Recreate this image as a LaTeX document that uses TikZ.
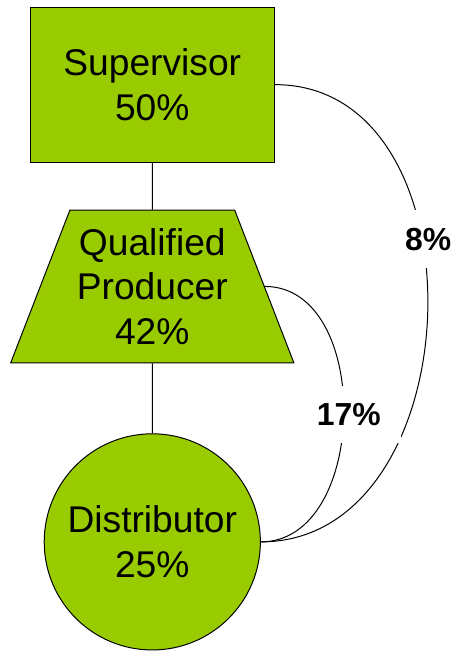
\documentclass[tikz,border=0pt]{standalone}
\usepackage{fontspec}
\setmainfont{Liberation Sans}
\usetikzlibrary{shapes.geometric}
\definecolor{leafgreen}{RGB}{153, 204, 0}

\tikzset{
    rolebox/.style   = {draw=black, fill=leafgreen, line width=0.75pt, inner sep=0pt, align=center,
                        font=\fontsize{28}{33.5}\selectfont},
    sharelabel/.style= {fill=white, inner xsep=15pt, inner ysep=13pt, font=\fontsize{24}{28}\selectfont\bfseries},
    shareline/.style = {draw=black, line width=0.75pt}
}

\begin{document}
\begin{tikzpicture}
            \useasboundingbox (0.00, 0.00) rectangle (12.01, -17.36);
            \node[rolebox, rectangle, minimum width=6.47cm, minimum height=4.10cm]           (supervisor)  at (4.03,  -2.24) {Supervisor\\50\%};
            \node[rolebox, trapezium, trapezium angle=65, trapezium stretches=true,
                  minimum width=7.51cm, minimum height=4.04cm]                               (producer)    at (4.03,  -7.58) {Qualified\\Producer\\42\%};
            \node[rolebox, circle, minimum size=5.72cm]                                      (distributor) at (4.03, -14.34) {Distributor\\25\%};

            \draw[shareline] (supervisor.south) -- (producer.north);
            \draw[shareline] (producer.south)   -- (distributor.north);
            \draw[shareline] (supervisor.east)  to[out=0, in=0, looseness=1.19]
                 node[sharelabel, pos=0.39, xshift=4.5pt]  {8\%}  (distributor.east);
            \draw[shareline] (producer.east)    to[out=0, in=0, looseness=1.08]
                 node[sharelabel, pos=0.50, xshift=3.75pt] {17\%} (distributor.east);
        \end{tikzpicture}
\end{document}
